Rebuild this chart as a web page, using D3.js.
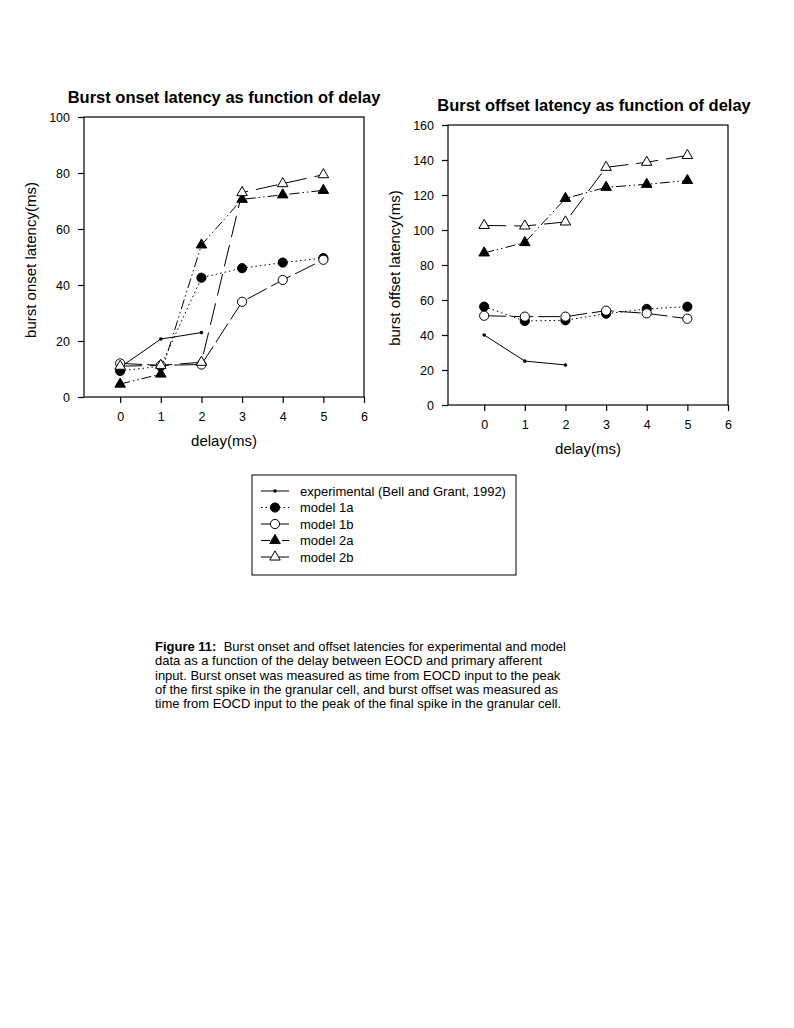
<!DOCTYPE html>
<html>
<head>
<meta charset="utf-8">
<script src="https://cdn.jsdelivr.net/npm/d3@7/dist/d3.min.js"></script>
<style>
  body { margin: 0; background: #fff; }
  svg { display: block; }
  text { font-family: Arial, "Liberation Sans", sans-serif; fill: #000; }
</style>
</head>
<body>
<svg id="c" width="794" height="1028"></svg>
<script>
// ---- data ----
const delays = [0, 1, 2, 3, 4, 5];
const xTicks = [0, 1, 2, 3, 4, 5, 6];
const onsetTicks = [0, 20, 40, 60, 80, 100];
const offsetTicks = [0, 20, 40, 60, 80, 100, 120, 140, 160];

const seriesNames = ["experimental (Bell and Grant, 1992)", "model 1a", "model 1b", "model 2a", "model 2b"];

// burst onset latency (ms)
const onsetExp = [10.6, 20.7, 23.0];
const onset1a = [9.3, 11.0, 42.6, 46.0, 48.0, 49.6];
const onset1b = [12.0, 11.3, 11.6, 34.0, 41.8, 49.0];
const onset2a = [4.6, 8.2, 54.3, 70.6, 72.2, 73.8];
const onset2b = [11.0, 11.3, 12.4, 73.0, 76.2, 79.4];

// burst offset latency (ms)
const offsetExp = [40.0, 25.1, 22.9];
const offset1a = [56.2, 48.0, 48.4, 52.2, 54.9, 56.2];
const offset1b = [51.0, 50.5, 50.5, 53.9, 52.4, 49.3];
const offset2a = [86.9, 92.8, 118.0, 124.4, 126.1, 128.3];
const offset2b = [102.6, 102.3, 104.6, 135.8, 138.7, 142.6];

// ---- styles ----
const styles = [
  { dash: null, legendDash: null, marker: "dot" },
  { dash: "1.5,3", legendDash: "1.5,3", marker: "circleFilled" },
  { dash: "22,5", legendDash: null, marker: "circleOpen" },
  { dash: "10,3,1.5,3,1.5,3", legendDash: "9,3,1.5,3,1.5,3", marker: "triFilled" },
  { dash: "22,8", legendDash: null, marker: "triOpen" }
];

const svg = d3.select("#c");

function drawMarker(g, type, x, y) {
  if (type === "dot") {
    g.append("circle").attr("cx", x).attr("cy", y).attr("r", 1.8).attr("fill", "#000");
  } else if (type === "circleFilled" || type === "circleOpen") {
    g.append("circle").attr("cx", x).attr("cy", y).attr("r", 4.6)
      .attr("fill", type === "circleFilled" ? "#000" : "#fff")
      .attr("stroke", "#000").attr("stroke-width", 1);
  } else {
    g.append("path").attr("d", d3.symbol().type(d3.symbolTriangle).size(48)())
      .attr("transform", `translate(${x},${y})`)
      .attr("fill", type === "triFilled" ? "#000" : "#fff")
      .attr("stroke", "#000").attr("stroke-width", 1);
  }
}

function panel(opts) {
  const x = d3.scaleLinear().domain([-0.89, 6]).range([opts.left, opts.right]);
  const y = d3.scaleLinear().domain([0, opts.ymax]).range([opts.bottom, opts.top]);
  const g = svg.append("g");

  g.append("rect").attr("x", opts.left).attr("y", opts.top)
    .attr("width", opts.right - opts.left).attr("height", opts.bottom - opts.top)
    .attr("fill", "none").attr("stroke", "#000").attr("stroke-width", 1.2);

  const xa = g.append("g").attr("transform", `translate(0,${opts.bottom})`)
    .call(d3.axisBottom(x).tickValues(xTicks).tickFormat(d3.format("d")).tickSize(6).tickPadding(9));
  const ya = g.append("g").attr("transform", `translate(${opts.left},0)`)
    .call(d3.axisLeft(y).tickValues(opts.yTicks).tickFormat(d3.format("d")).tickSize(6).tickPadding(8));
  [xa, ya].forEach(a => {
    a.select(".domain").remove();
    a.selectAll("line").attr("stroke", "#000").attr("stroke-width", 1.2);
    a.selectAll("text").attr("font-size", 12.5).attr("font-family", "Arial, 'Liberation Sans', sans-serif").attr("fill", "#000");
  });

  g.append("text").attr("x", opts.titleX).attr("y", opts.titleY)
    .attr("text-anchor", "middle").attr("font-size", 16.5).attr("font-weight", "bold").text(opts.title);
  g.append("text").attr("x", (opts.left + opts.right) / 2).attr("y", opts.bottom + 49)
    .attr("text-anchor", "middle").attr("font-size", 15).text("delay(ms)");
  g.append("text").attr("transform", `translate(${opts.left - 48},${(opts.top + opts.bottom) / 2 + 3}) rotate(-90)`)
    .attr("text-anchor", "middle").attr("font-size", 15).text(opts.ylabel);

  opts.series.forEach((vals, i) => {
    const pts = vals.map((v, k) => [x(delays[k]), y(v)]);
    const line = g.append("path").attr("d", d3.line()(pts))
      .attr("fill", "none").attr("stroke", "#000").attr("stroke-width", 1);
    if (styles[i].dash) line.attr("stroke-dasharray", styles[i].dash);
  });
  opts.series.forEach((vals, i) => {
    vals.forEach((v, k) => drawMarker(g, styles[i].marker, x(delays[k]), y(v)));
  });
}

panel({
  left: 84, right: 364, top: 117, bottom: 397, ymax: 100, yTicks: onsetTicks,
  title: "Burst onset latency as function of delay", titleX: 224, titleY: 103,
  ylabel: "burst onset latency(ms)",
  series: [onsetExp, onset1a, onset1b, onset2a, onset2b]
});
panel({
  left: 448, right: 728, top: 125, bottom: 405, ymax: 160, yTicks: offsetTicks,
  title: "Burst offset latency as function of delay", titleX: 594, titleY: 111,
  ylabel: "burst offset latency(ms)",
  series: [offsetExp, offset1a, offset1b, offset2a, offset2b]
});

// legend
const lg = svg.append("g");
lg.append("rect").attr("x", 252).attr("y", 475).attr("width", 264).attr("height", 100)
  .attr("fill", "#fff").attr("stroke", "#000").attr("stroke-width", 1);
seriesNames.forEach((name, i) => {
  const cy = 491 + i * 16.5;
  const ln = lg.append("line").attr("x1", 261).attr("x2", 289).attr("y1", cy).attr("y2", cy)
    .attr("stroke", "#000").attr("stroke-width", 1);
  if (styles[i].legendDash) ln.attr("stroke-dasharray", styles[i].legendDash);
  drawMarker(lg, styles[i].marker, 275, cy);
  lg.append("text").attr("x", 300).attr("y", cy + 4.5).attr("font-size", 13).text(name);
});

// caption
const captionLines = [
  ["Figure 11:", "  Burst onset and offset latencies for experimental and model"],
  ["", "data as a function of the delay between EOCD and primary afferent"],
  ["", "input. Burst onset was measured as time from EOCD input to the peak"],
  ["", "of the first spike in the granular cell, and burst offset was measured as"],
  ["", "time from EOCD input to the peak of the final spike in the granular cell."]
];
const cg = svg.append("g");
captionLines.forEach((l, i) => {
  const t = cg.append("text").attr("x", 155).attr("y", 651 + i * 14.3).attr("font-size", 13)
    .attr("xml:space", "preserve").style("white-space", "pre");
  if (l[0]) t.append("tspan").attr("font-weight", "bold").text(l[0]);
  t.append("tspan").text(l[1]);
});
</script>
</body>
</html>
